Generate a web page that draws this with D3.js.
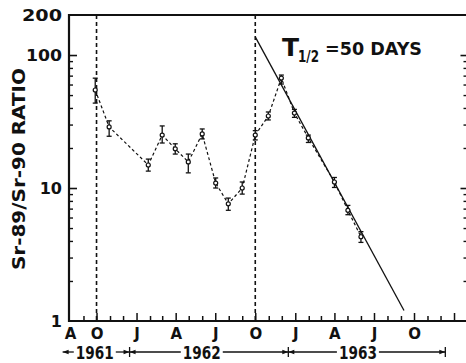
<!DOCTYPE html>
<html><head><meta charset="utf-8">
<script src="https://cdn.jsdelivr.net/npm/d3@7"></script>
<style>
html,body{margin:0;padding:0;background:#fff;}
svg{display:block;}
text{font-family:"DejaVu Sans",sans-serif;font-weight:bold;fill:#111;}
</style></head><body>
<svg id="c" width="466" height="363"></svg>
<script>
// ---- data ----
const dates = ["1961-09-28","1961-10-30","1962-01-28","1962-03-01","1962-03-31","1962-04-30","1962-06-01","1962-07-02","1962-07-31","1962-09-01","1962-10-01","1962-10-31","1962-11-30","1962-12-30","1963-01-31","1963-04-01","1963-05-02","1963-06-01"];
const ratio   = [54.6, 28.8, 14.9, 25.0, 19.7, 15.7, 25.5, 10.9, 7.6, 10.0, 25.0, 34.8, 67.1, 36.6, 23.8, 11.1, 6.8, 4.3];
const errLow  = [43.5, 24.5, 13.4, 21.8, 18.0, 13.0, 23.4, 10.0, 6.8, 9.0, 23.0, 32.5, 60.5, 34.0, 22.0, 10.1, 6.3, 3.9];
const errHigh = [67.0, 32.0, 16.5, 29.3, 21.5, 18.0, 27.8, 11.9, 8.4, 11.1, 27.0, 37.3, 70.7, 39.0, 25.0, 12.0, 7.4, 4.7];
const fitDates  = ["1962-10-01","1963-09-08"];
const fitValues = [137, 1.2];
const markerDates = ["1961-10-01","1962-10-01"];
const monthLabelDates = ["1961-08-01","1961-10-01","1962-01-01","1962-04-01","1962-07-01","1962-10-01","1963-01-01","1963-04-01","1963-07-01","1963-10-01"];
const monthLabels = ["A","O","J","A","J","O","J","A","J","O"];
const yLabelValues = [1,10,100,200];
const yLabels = ["1","10","100","200"];
const yMajor = [10,100];
const yMinor = [2,3,4,5,6,7,8,9,20,30,40,50,60,70,80,90];
const yearLabels = ["1961","1962","1963"];
const yearStarts = ["1961-07-15","1961-12-16","1962-12-16"];
const yearEnds   = ["1961-12-16","1962-12-16","1963-12-12"];
const yearLabelDates = ["1961-09-27","1962-05-31","1963-05-25"];
const annotation = {main:"T", sub:"1/2", rest:"=50 DAYS"};
const yTitle = "Sr-89/Sr-90 RATIO";

// ---- setup ----
const parse = d3.timeParse("%Y-%m-%d");
const svg = d3.select("#c");
const x = d3.scaleTime().domain([new Date(1961,7,1), new Date(1964,1,1)]).range([70, 467.5]);
const y = d3.scaleLog().domain([1,200]).range([321,15]);
const X0 = 69, XR = 467.5;

// frame
const frame = svg.append("g").attr("stroke","#111").attr("stroke-width",2.2).attr("fill","none");
frame.append("line").attr("x1",X0-1).attr("x2",470).attr("y1",y(200)).attr("y2",y(200));
frame.append("line").attr("x1",X0).attr("x2",X0).attr("y1",y(200)-1).attr("y2",y(1)+1);
frame.append("line").attr("x1",X0-1).attr("x2",470).attr("y1",y(1)).attr("y2",y(1));
frame.append("line").attr("x1",XR).attr("x2",XR).attr("y1",y(200)).attr("y2",y(1));

function styleAxis(g, sw){
  g.select(".domain").remove();
  g.selectAll(".tick line").attr("stroke","#111").attr("stroke-width",sw);
}
// x ticks
const months = d3.timeMonth.range(new Date(1961,8,1), new Date(1964,0,2));
const quarterMonths = months.filter(d => d.getMonth()%3===0);
const minorMonths = months.filter(d => d.getMonth()%3!==0);
svg.append("g").attr("transform",`translate(0,${y(1)})`)
  .call(d3.axisBottom(x).tickValues(minorMonths).tickSize(-5).tickFormat(""))
  .call(g=>styleAxis(g,1.5));
svg.append("g").attr("transform",`translate(0,${y(1)})`)
  .call(d3.axisBottom(x).tickValues(quarterMonths).tickSize(-8).tickFormat(""))
  .call(g=>styleAxis(g,1.5));
// month labels
const ml = svg.append("g").attr("transform",`translate(0,${y(1)})`)
  .call(d3.axisBottom(x).tickValues(monthLabelDates.map(parse)).tickSize(0).tickPadding(7)
    .tickFormat((d,i)=>monthLabels[i]));
ml.select(".domain").remove();
ml.selectAll("text").attr("font-size",15).attr("font-family","DejaVu Sans").attr("font-weight","bold").attr("fill","#111");

// y ticks left
svg.append("g").attr("transform",`translate(${X0},0)`)
  .call(d3.axisLeft(y).tickValues(yMinor).tickSize(-4).tickFormat(""))
  .call(g=>styleAxis(g,1.4));
svg.append("g").attr("transform",`translate(${X0},0)`)
  .call(d3.axisLeft(y).tickValues(yMajor).tickSize(-8).tickFormat(""))
  .call(g=>styleAxis(g,1.6));
// y ticks right
svg.append("g").attr("transform",`translate(${XR},0)`)
  .call(d3.axisRight(y).tickValues(yMinor).tickSize(-4).tickFormat(""))
  .call(g=>styleAxis(g,1.4));
svg.append("g").attr("transform",`translate(${XR},0)`)
  .call(d3.axisRight(y).tickValues(yMajor).tickSize(-7).tickFormat(""))
  .call(g=>styleAxis(g,1.6));
// y labels
const yl = svg.append("g").attr("transform",`translate(${X0},0)`)
  .call(d3.axisLeft(y).tickValues(yLabelValues).tickSize(0).tickPadding(7)
    .tickFormat((d,i)=>yLabels[i]));
yl.select(".domain").remove();
yl.selectAll("text").attr("font-size",16).attr("font-family","DejaVu Sans").attr("font-weight","bold").attr("fill","#111")
  .attr("textLength",(d)=> d===200 ? 40 : (d===100 ? 36 : null)).attr("lengthAdjust","spacingAndGlyphs");

// y title
svg.append("text").attr("transform",`translate(25,169) rotate(-90)`)
  .attr("text-anchor","middle").attr("font-size",17)
  .attr("textLength",202).attr("lengthAdjust","spacingAndGlyphs").text(yTitle);

// vertical dashed markers
svg.append("g").selectAll("line").data(markerDates.map(parse)).join("line")
  .attr("x1",d=>x(d)).attr("x2",d=>x(d)).attr("y1",y(200)).attr("y2",y(1))
  .attr("stroke","#111").attr("stroke-width",1.6).attr("stroke-dasharray","4,3");

// fit line
svg.append("line")
  .attr("x1",x(parse(fitDates[0]))).attr("y1",y(fitValues[0]))
  .attr("x2",x(parse(fitDates[1]))).attr("y2",y(fitValues[1]))
  .attr("stroke","#111").attr("stroke-width",1.3);

// data
const pts = dates.map((d,i)=>({d:parse(d), v:ratio[i], lo:errLow[i], hi:errHigh[i]}));
svg.append("path").datum(pts)
  .attr("d", d3.line().x(p=>x(p.d)).y(p=>y(p.v)))
  .attr("fill","none").attr("stroke","#111").attr("stroke-width",1.2).attr("stroke-dasharray","3,2.5");
const eb = svg.append("g").attr("stroke","#111").attr("stroke-width",1.3);
eb.selectAll("line.v").data(pts).join("line").attr("class","v")
  .attr("x1",p=>x(p.d)).attr("x2",p=>x(p.d)).attr("y1",p=>y(p.lo)).attr("y2",p=>y(p.hi));
eb.selectAll("line.t").data(pts).join("line").attr("class","t")
  .attr("x1",p=>x(p.d)-2.5).attr("x2",p=>x(p.d)+2.5).attr("y1",p=>y(p.hi)).attr("y2",p=>y(p.hi));
eb.selectAll("line.b").data(pts).join("line").attr("class","b")
  .attr("x1",p=>x(p.d)-2.5).attr("x2",p=>x(p.d)+2.5).attr("y1",p=>y(p.lo)).attr("y2",p=>y(p.lo));
svg.append("g").selectAll("circle").data(pts).join("circle")
  .attr("cx",p=>x(p.d)).attr("cy",p=>y(p.v)).attr("r",2)
  .attr("fill","#fff").attr("stroke","#111").attr("stroke-width",1.2);

// annotation
const ann = svg.append("text").attr("x",282).attr("y",56);
ann.append("tspan").attr("font-size",25).text(annotation.main);
ann.append("tspan").attr("x",298).attr("y",62).attr("font-size",15)
  .attr("textLength",21).attr("lengthAdjust","spacingAndGlyphs").text(annotation.sub);
ann.append("tspan").attr("x",325).attr("y",55).attr("font-size",17)
  .attr("textLength",97).attr("lengthAdjust","spacingAndGlyphs").text(annotation.rest);

// year row
const YR = 352;
const yr = svg.append("g");
yearLabels.forEach((lab,i)=>{
  const s = x(parse(yearStarts[i])), e = x(parse(yearEnds[i])), c = x(parse(yearLabelDates[i]));
  const w = 38;
  yr.append("line").attr("x1",s).attr("x2",c-w/2-2).attr("y1",YR).attr("y2",YR).attr("stroke","#111").attr("stroke-width",1.3);
  yr.append("line").attr("x1",c+w/2+2).attr("x2",e).attr("y1",YR).attr("y2",YR).attr("stroke","#111").attr("stroke-width",1.3);
  yr.append("path").attr("d",`M${s},${YR}L${s+6},${YR-2.2}L${s+6},${YR+2.2}Z`).attr("fill","#111");
  yr.append("path").attr("d",`M${e},${YR}L${e-6},${YR-2.2}L${e-6},${YR+2.2}Z`).attr("fill","#111");
  if(i>0) yr.append("line").attr("x1",s).attr("x2",s).attr("y1",YR-5).attr("y2",YR+5).attr("stroke","#111").attr("stroke-width",1.3);
  yr.append("text").attr("x",c).attr("y",358.5).attr("text-anchor","middle").attr("font-size",17)
    .attr("textLength",w).attr("lengthAdjust","spacingAndGlyphs").text(lab);
});
yr.append("line").attr("x1",x(parse(yearEnds[2]))).attr("x2",x(parse(yearEnds[2])))
  .attr("y1",YR-5).attr("y2",YR+5).attr("stroke","#111").attr("stroke-width",1.3);
</script>
</body></html>
